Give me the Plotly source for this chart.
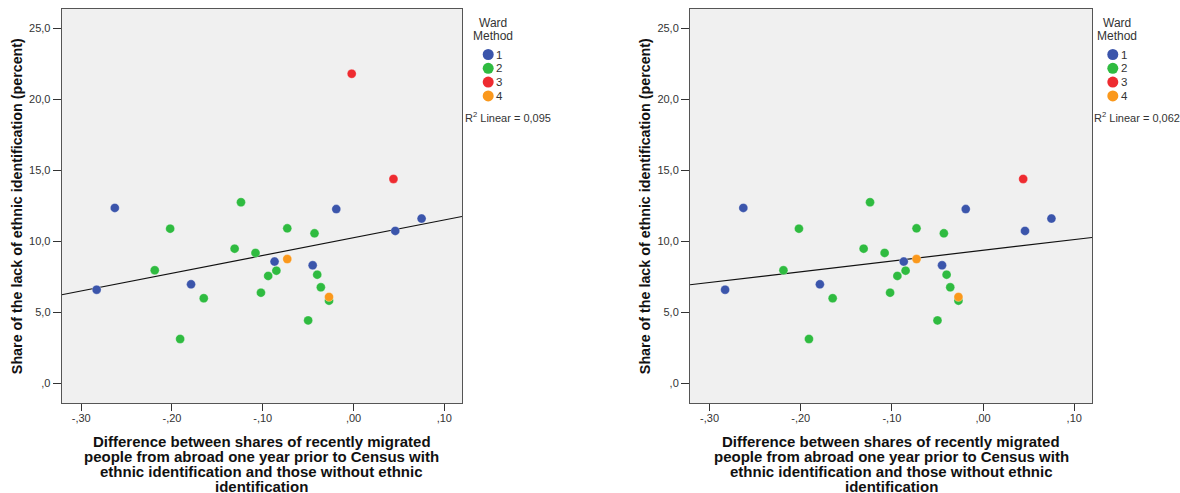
import numpy as np
import plotly.graph_objects as go

# Ward clusters (1-4) for each municipality
cluster = [1, 1, 1, 1, 1, 1, 1, 1,
           2, 2, 2, 2, 2, 2, 2, 2, 2, 2, 2, 2, 2, 2, 2, 2,
           3, 3,
           4, 4]
# Difference between shares of recently migrated people (with vs. without ethnic identification)
diff_share = [-0.283, -0.263, -0.179, -0.087, -0.045, -0.019, 0.046, 0.075,
              -0.219, -0.202, -0.191, -0.165, -0.131, -0.124, -0.108, -0.102,
              -0.094, -0.085, -0.073, -0.050, -0.043, -0.040, -0.036, -0.027,
              -0.002, 0.044,
              -0.073, -0.027]
# Share of the lack of ethnic identification (percent)
lack_share = [6.59, 12.35, 6.97, 8.57, 8.31, 12.27, 10.73, 11.60,
              7.96, 10.89, 3.12, 5.99, 9.48, 12.75, 9.18, 6.38,
              7.56, 7.93, 10.91, 4.43, 10.56, 7.65, 6.76, 5.82,
              21.80, 14.39,
              8.75, 6.08]

# Second panel leaves out the outlier at the top
excluded_right = [24]

cluster_colors = {1: "#3b55ab", 2: "#2fbb40", 3: "#ee2b30", 4: "#fa981c"}
cluster_names = ["1", "2", "3", "4"]
r2_labels = ["R<sup>2</sup> Linear = 0,095", "R<sup>2</sup> Linear = 0,062"]

x_title_lines = ["Difference between shares of recently migrated",
                 "people from abroad one year prior to Census with",
                 "ethnic identification and those without ethnic",
                 "identification"]
y_title = "Share of the lack of ethnic identification (percent)"

x_ticks = [-0.30, -0.20, -0.10, 0.00, 0.10]
x_tick_text = ["-,30", "-,20", "-,10", ",00", ",10"]
y_ticks = [0, 5, 10, 15, 20, 25]
y_tick_text = [",0", "5,0", "10,0", "15,0", "20,0", "25,0"]

X_RANGE = [-0.3215, 0.1195]
Y_RANGE = [-1.41, 26.36]

W, H = 1180, 493
FONT = "Liberation Sans, Arial, sans-serif"

panels = [
    dict(xa="x", ya="y", dom=[61.7 / W, 462.0 / W], keep=[i for i in range(len(diff_share))]),
    dict(xa="x2", ya="y2", dom=[690.0 / W, 1092.0 / W],
         keep=[i for i in range(len(diff_share)) if i not in excluded_right]),
]
y_dom = [1 - 403.3 / H, 1 - 9.0 / H]

fig = go.Figure()
annotations = []
shapes = []

for p_i, p in enumerate(panels):
    xs = np.array([diff_share[i] for i in p["keep"]])
    ys = np.array([lack_share[i] for i in p["keep"]])
    cs = [cluster[i] for i in p["keep"]]

    # linear fit over all points of the panel, drawn across the whole axis
    slope, intercept = np.polyfit(xs, ys, 1)
    lx = np.array(X_RANGE)
    fig.add_trace(go.Scatter(x=lx, y=slope * lx + intercept, mode="lines",
                             line=dict(color="#111111", width=1.2),
                             xaxis=p["xa"], yaxis=p["ya"], showlegend=False,
                             hoverinfo="skip"))

    for c in sorted(cluster_colors):
        idx = [k for k, v in enumerate(cs) if v == c]
        if not idx:
            continue
        fig.add_trace(go.Scatter(x=xs[idx], y=ys[idx], mode="markers",
                                 marker=dict(color=cluster_colors[c], size=9,
                                             line=dict(width=0.6, color="rgba(255,255,255,0.5)")),
                                 xaxis=p["xa"], yaxis=p["ya"], showlegend=False,
                                 name=cluster_names[c - 1]))

    x0, x1 = p["dom"]
    ax_suffix = "" if p_i == 0 else "2"
    fig.update_layout(**{
        "xaxis" + ax_suffix: dict(
            domain=p["dom"], range=X_RANGE, anchor="y" + ax_suffix,
            tickvals=x_ticks, ticktext=x_tick_text, ticks="outside", ticklen=7,
            tickcolor="#333333", tickwidth=1, showgrid=False, zeroline=False,
            showline=True, mirror=True, linecolor="#555555", linewidth=1,
            ticklabelstandoff=-3,
            tickfont=dict(family=FONT, size=11, color="#333333")),
        "yaxis" + ax_suffix: dict(
            domain=y_dom, range=Y_RANGE, anchor="x" + ax_suffix,
            tickvals=y_ticks, ticktext=y_tick_text, ticks="outside", ticklen=8,
            tickcolor="#333333", tickwidth=1, showgrid=False, zeroline=False,
            showline=True, mirror=True, linecolor="#555555", linewidth=1,
            tickfont=dict(family=FONT, size=11, color="#333333")),
    })

    # axis titles (x title set line by line for tight spacing)
    cx = (x0 + x1) / 2
    for li, line in enumerate(x_title_lines):
        annotations.append(dict(
            text=line, x=cx, y=1 - (441.0 + li * 15.0) / H, xref="paper", yref="paper",
            xanchor="center", yanchor="middle", showarrow=False,
            font=dict(family=FONT, size=15, color="#111111", weight="bold")))
    ytitle_x = (17.0 if p_i == 0 else 645.0) / W
    annotations.append(dict(
        text=y_title,
        x=ytitle_x, y=(y_dom[0] + y_dom[1]) / 2, xref="paper", yref="paper",
        xanchor="center", yanchor="middle", textangle=-90, showarrow=False,
        font=dict(family=FONT, size=14.3, color="#111111", weight="bold")))

    # cluster key
    key_cx = (492.7 if p_i == 0 else 1117.3)
    annotations.append(dict(
        text="Ward", x=key_cx / W, y=1 - 23.3 / H, xref="paper", yref="paper",
        xanchor="center", yanchor="middle", showarrow=False,
        font=dict(family=FONT, size=12, color="#333333")))
    annotations.append(dict(
        text="Method", x=key_cx / W, y=1 - 35.5 / H, xref="paper", yref="paper",
        xanchor="center", yanchor="middle", showarrow=False,
        font=dict(family=FONT, size=12, color="#333333")))
    dot_x = key_cx - 4.5
    for k, name in enumerate(cluster_names):
        yy = 54.5 + k * 13.8
        shapes.append(dict(type="circle", xref="paper", yref="paper",
                           xsizemode="pixel", ysizemode="pixel",
                           xanchor=dot_x / W, yanchor=1 - yy / H,
                           x0=-5.5, x1=5.5, y0=-5.5, y1=5.5,
                           fillcolor=cluster_colors[k + 1], line=dict(width=0)))
        annotations.append(dict(
            text=name, x=(dot_x + 6) / W, y=1 - yy / H, xref="paper", yref="paper",
            xanchor="left", yanchor="middle", showarrow=False,
            font=dict(family=FONT, size=11.5, color="#333333")))
    r2_x = 462.5 if p_i == 0 else 1091.5
    annotations.append(dict(
        text=r2_labels[p_i], x=r2_x / W, y=1 - 117.5 / H, xref="paper", yref="paper",
        xanchor="left", yanchor="middle", showarrow=False,
        font=dict(family=FONT, size=11, color="#333333")))

fig.update_layout(
    width=W, height=H, margin=dict(l=0, r=0, t=0, b=0),
    paper_bgcolor="white", plot_bgcolor="#f0f0f0",
    annotations=annotations, shapes=shapes, showlegend=False,
)

fig.write_html("out.html")
